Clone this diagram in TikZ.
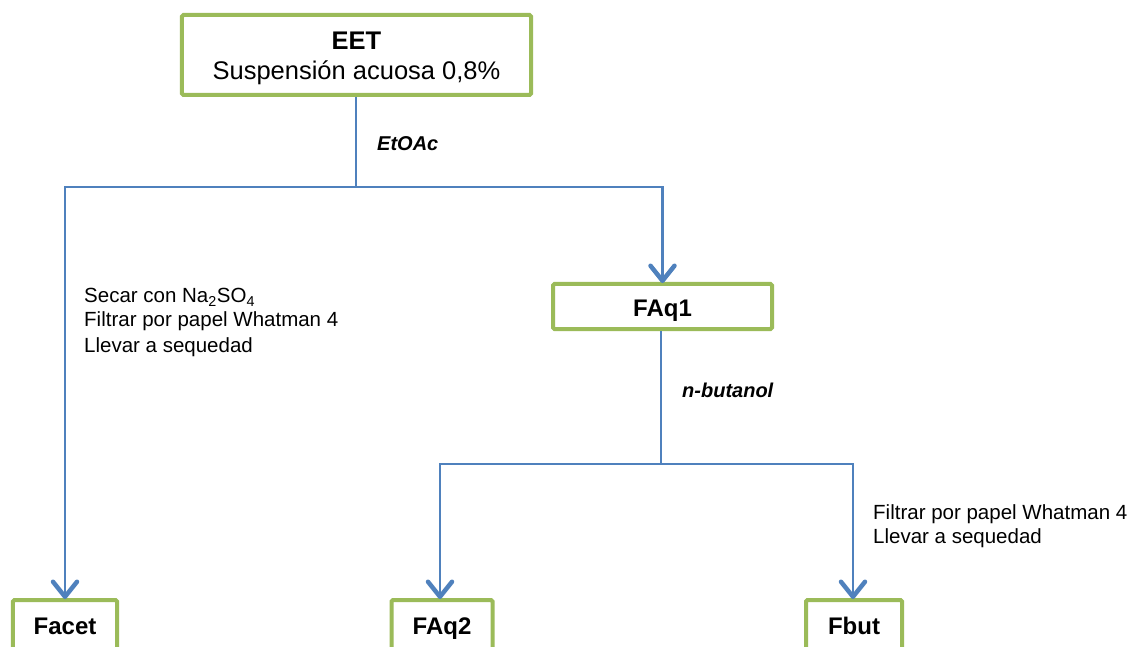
\documentclass[tikz,border=0pt]{standalone}
\usepackage{fontspec}
\setmainfont{Liberation Sans}
\usetikzlibrary{arrows.meta}
\definecolor{boxgreen}{HTML}{9BBB59}
\definecolor{flowblue}{HTML}{4F81BD}
\tikzset{
  stagebox/.style={draw=boxgreen, line width=4bp, rounded corners=1.5bp, fill=white,
    inner sep=0pt, align=center},
  fraction/.style={stagebox, font=\fontsize{24bp}{28bp}\selectfont\bfseries},
  flow/.style={draw=flowblue, line width=2.8bp},
  flowarrow/.style={flow, -{Straight Barb[round,length=15bp,width=24bp,line width=4.5bp]}},
  note/.style={font=\fontsize{20.5bp}{24bp}\selectfont, anchor=base west, inner sep=0pt, align=left},
  solvent/.style={font=\fontsize{20bp}{24bp}\selectfont\bfseries\itshape, anchor=base west, inner sep=0pt}
}
\begin{document}
\begin{tikzpicture}[x=1bp, y=-1bp]
\useasboundingbox (0,0) rectangle (1131,647);
\begin{scope}
\clip (0,0) rectangle (1131,647);

% stages
\node[stagebox, minimum width=349bp, minimum height=80bp,
  font=\fontsize{25.5bp}{30bp}\selectfont] (eet) at (356.5,55)
  {\rule{0pt}{24bp}\textbf{EET}\\Suspensión acuosa 0,8\%};
\node[fraction, minimum width=219bp, minimum height=45bp,
  text height=22bp, text depth=2bp] (faq1) at (662.5,306.5) {FAq1};
\node[fraction, minimum width=104bp, minimum height=52bp,
  text height=20bp, text depth=4bp] (facet) at (65,626) {Facet};
\node[fraction, minimum width=101bp, minimum height=52bp,
  text height=20bp, text depth=4bp] (faq2) at (442,626) {FAq2};
\node[fraction, minimum width=96bp, minimum height=52bp,
  text height=20bp, text depth=4bp] (fbut) at (854,626) {Fbut};

% split points
\coordinate (split1) at (356,187);
\coordinate (split2) at (661,464);

% first partition (EtOAc)
\draw[flow] (eet.south -| split1) -- (split1);
\draw[flowarrow] (split1) -| ([yshift=-1bp]facet.north);
\draw[flowarrow] (split1) -| ([yshift=-1bp]faq1.north);

% second partition (n-butanol)
\draw[flow] (faq1.south -| split2) -- (split2);
\draw[flowarrow] (split2) -| ([yshift=-1bp]faq2.north -| 440,0);
\draw[flowarrow] (split2) -| ([yshift=-1bp]fbut.north -| 853,0);

% solvents
\node[solvent] (etoac) at (377,151) {EtOAc};
\node[solvent] (nbut) at (682,397) {n-butanol};

% treatments (anchored on the baseline of the last line)
\node[note] (treat1) at (84,352) {Secar con Na\textsubscript{2}SO\textsubscript{4}\\Filtrar por papel Whatman 4\\[1bp]Llevar a sequedad};
\node[note] (treat2) at (873,543) {Filtrar por papel Whatman 4\\Llevar a sequedad};
\end{scope}
\end{tikzpicture}
\end{document}
